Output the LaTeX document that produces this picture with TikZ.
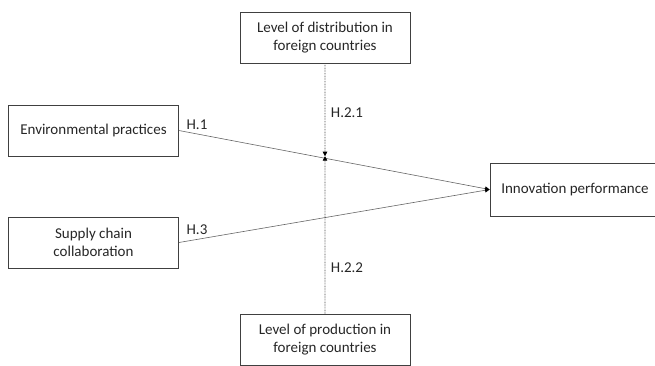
\documentclass[tikz,border=0pt]{standalone}
\usepackage{fontspec}
\setmainfont{Carlito}
\usetikzlibrary{arrows.meta}
\begin{document}
\begin{tikzpicture}[x=1pt,y=-1pt,
  box/.style={draw=black!75,line width=0.8pt,minimum width=170pt,minimum height=51pt,align=center,inner sep=2pt,text=black!85,font=\fontsize{15}{18}\selectfont},
  conn/.style={draw=black!60,line width=0.6pt},
  mod/.style={draw=black!70,line width=0.6pt,dash pattern=on 0.8pt off 0.8pt},
  tip/.style={-{Triangle[length=4.5pt,width=4.5pt,color=black]}},
  lab/.style={text=black!85,font=\fontsize{15}{18}\selectfont,inner sep=0pt}]
\clip (0,0) rectangle (655,365);
\useasboundingbox (0,0) rectangle (655,365);
\node[box] (env) at (93.5,130.5) {Environmental practices};
\node[box] (sup) at (93.5,242.5) {Supply chain\\collaboration};
\node[box] (top) at (325,37.5) {Level of distribution in\\foreign countries};
\node[box] (bot) at (325,340) {Level of production in\\foreign countries};
\node[box,minimum height=53pt] (inn) at (575,189.5) {Innovation performance};
\coordinate (m) at (intersection of top.south--bot.north and env.east--inn.west);
\draw[conn,tip] (env.east) -- (inn.west);
\draw[conn,tip] (sup.east) -- (inn.west);
\draw[mod,tip,shorten >=2pt] (top.south) -- (m);
\draw[mod,tip,shorten >=-2pt] (bot.north) -- (m);
\node[lab] (h1) at (197,125) {H.1};
\node[lab] (h3) at (197,230) {H.3};
\node[lab] (h21) at (347,113) {H.2.1};
\node[lab] (h22) at (347,268) {H.2.2};
\end{tikzpicture}
\end{document}
